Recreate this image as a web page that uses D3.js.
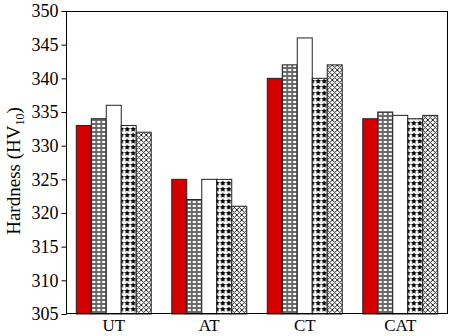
<!DOCTYPE html>
<html>
<head>
<meta charset="utf-8">
<script src="https://cdn.jsdelivr.net/npm/d3@7"></script>
<style>
  body { margin: 0; background: #fff; }
  text { font-family: "Liberation Serif", "Times New Roman", serif; }
</style>
</head>
<body>
<div id="chart"></div>
<script>
// groups on the x axis
const categories = ["UT", "AT", "CT", "CAT"];
// five samples per group
const series1 = [333, 325, 340, 334];
const series2 = [334, 322, 342, 335];
const series3 = [336, 325, 346, 334.5];
const series4 = [333, 325, 340, 334];
const series5 = [332, 321, 342, 334.5];
const yTicks = [305, 310, 315, 320, 325, 330, 335, 340, 345, 350];

const allSeries = [series1, series2, series3, series4, series5];
const fills = ["#d40000", "url(#pGrid)", "#fff", "url(#pStar)", "url(#pCross)"];

const width = 450, height = 336;
const margin = {top: 11, right: 2, bottom: 22, left: 66};

const svg = d3.select("#chart").append("svg")
  .attr("width", width)
  .attr("height", height);

// patterns
const defs = svg.append("defs");

const grid = defs.append("pattern")
  .attr("id", "pGrid")
  .attr("patternUnits", "userSpaceOnUse")
  .attr("width", 5).attr("height", 4);
grid.append("rect").attr("width", 5).attr("height", 4).attr("fill", "#6a6a6a");
grid.append("rect").attr("x", 1).attr("y", 1).attr("width", 3).attr("height", 2).attr("fill", "#fff");

const star = defs.append("pattern")
  .attr("id", "pStar")
  .attr("patternUnits", "userSpaceOnUse")
  .attr("width", 6).attr("height", 6);
star.append("rect").attr("width", 6).attr("height", 6).attr("fill", "#fff");
const starPath = (cx, cy, r) => {
  const pts = [];
  for (let i = 0; i < 10; i++) {
    const a = -Math.PI / 2 + i * Math.PI / 5;
    const rr = i % 2 === 0 ? r : r * 0.5;
    pts.push([cx + rr * Math.cos(a), cy + rr * Math.sin(a)]);
  }
  return "M" + pts.map(p => p.join(",")).join("L") + "Z";
};
star.append("path").attr("d", starPath(3, 3.3, 3)).attr("fill", "#000");

const cross = defs.append("pattern")
  .attr("id", "pCross")
  .attr("patternUnits", "userSpaceOnUse")
  .attr("width", 5).attr("height", 5);
cross.append("rect").attr("width", 5).attr("height", 5).attr("fill", "#fff");
cross.append("path")
  .attr("d", "M0,0L5,5M5,0L0,5")
  .attr("stroke", "#222").attr("stroke-width", 1);

const x0 = d3.scaleBand()
  .domain(categories)
  .range([margin.left, width - margin.right])
  .paddingInner(0.215)
  .paddingOuter(0.1075);

const x1 = d3.scaleBand()
  .domain(d3.range(allSeries.length))
  .range([0, x0.bandwidth()]);

const y = d3.scaleLinear()
  .domain([305, 350])
  .range([height - margin.bottom, margin.top]);

// bars
const groups = svg.append("g").selectAll("g")
  .data(categories)
  .join("g")
  .attr("transform", d => `translate(${x0(d)},0)`);

groups.selectAll("rect")
  .data((d, i) => allSeries.map((s, k) => ({k, v: s[i]})))
  .join("rect")
  .attr("x", d => x1(d.k))
  .attr("y", d => y(d.v))
  .attr("width", x1.bandwidth())
  .attr("height", d => y(305) - y(d.v))
  .attr("fill", d => fills[d.k])
  .attr("stroke", "#222")
  .attr("stroke-width", 1);

// frame
svg.append("rect")
  .attr("x", margin.left + 0.5)
  .attr("y", margin.top + 0.5)
  .attr("width", width - margin.right - margin.left - 1)
  .attr("height", height - margin.bottom - margin.top - 1)
  .attr("fill", "none")
  .attr("stroke", "#000")
  .attr("stroke-width", 1);

// y axis
const yAxis = svg.append("g")
  .attr("transform", `translate(${margin.left + 0.5},0)`)
  .call(d3.axisLeft(y).tickValues(yTicks).tickSize(5).tickPadding(3));
yAxis.select(".domain").remove();
yAxis.selectAll("text").attr("font-size", 18).attr("fill", "#000")
  .attr("font-family", "Liberation Serif");

// x axis labels
const xAxis = svg.append("g")
  .attr("transform", `translate(0,${height - margin.bottom})`)
  .call(d3.axisBottom(x0).tickSize(0).tickPadding(5));
xAxis.select(".domain").remove();
xAxis.selectAll("text").attr("font-size", 17).attr("fill", "#000")
  .attr("font-family", "Liberation Serif");

// y label
const yl = svg.append("text")
  .attr("transform", "translate(20,171) rotate(-90)")
  .attr("text-anchor", "middle")
  .attr("font-size", 19);
yl.append("tspan").text("Hardness (HV");
yl.append("tspan").attr("font-size", 12).attr("dy", 4).text("10");
yl.append("tspan").attr("dy", -4).text(")");
</script>
</body>
</html>
